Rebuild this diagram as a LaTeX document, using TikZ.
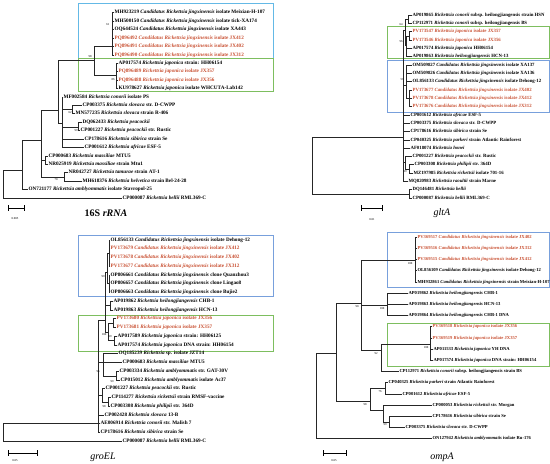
\documentclass[tikz,border=0pt]{standalone}
\usepackage{fontspec}
\setmainfont{Liberation Serif}
\usetikzlibrary{positioning}

\definecolor{boxcyan}{RGB}{100,185,230}
\definecolor{boxblue}{RGB}{120,160,220}
\definecolor{boxgreen}{RGB}{125,190,95}
\definecolor{redlab}{RGB}{200,80,50}

\begin{document}
\begin{tikzpicture}[x=1pt,y=-1pt,
    leaf/.style={anchor=west,inner sep=0.4pt,font=\fontsize{#1}{5}\selectfont\bfseries,text height=3.3pt,text depth=0.9pt},
    leaf/.default=4.8,
    br/.style={line width=0.6pt,black!85},
    bs/.style={font=\fontsize{3}{3}\selectfont,inner sep=0pt},
    clade/.style={line width=0.7pt},
    treetitle/.style={font=\fontsize{10}{11}\selectfont,inner sep=0pt}]
    \tikzstyle{scalebar}=[line width=0.6pt,{|-|}]
\useasboundingbox (0,0) rectangle (550,464);

%%%%%%%% 16S rRNA (top left)
    \draw[boxcyan,clade] (78,3) rectangle (273,58.5); % jingxinensis clade
    \draw[boxgreen,clade] (78,58.5) rectangle (273,91); % japonica clade
    \foreach \i/\x/\c/\acc/\sp/\rest in {
        1/114/black/MH923219/Candidatus Rickettsia jingxinensis/isolate Meixian-H-107,
        2/114/black/MH500150/Candidatus Rickettsia jingxinensis/isolate tick-XA174,
        3/114/black/OQ644524/Candidatus Rickettsia jingxinensis/isolate XA443,
        4/114/redlab/PQ896492/Candidatus Rickettsia jingxinensis/isolate JX412,
        5/114/redlab/PQ896491/Candidatus Rickettsia jingxinensis/isolate JX402,
        6/114/redlab/PQ896490/Candidatus Rickettsia jingxinensis/isolate JX312,
        7/118/black/AP017574/Rickettsia japonica/strain: HH06154,
        8/118/redlab/PQ896489/Rickettsia japonica/isolate JX357,
        9/118/redlab/PQ896488/Rickettsia japonica/isolate JX356,
        10/118/black/KU978627/Rickettsia japonica/isolate WHCUTA-Lab142,
        11/63/black/MF002584/Rickettsia conorii/isolate PS,
        12/82/black/CP003375/Rickettsia slovaca/str. D-CWPP,
        13/75/black/MN577235/Rickettsia slovaca/strain R-406,
        14/82/black/DQ062433/Rickettsia peacockii/{},
        15/80/black/CP001227/Rickettsia peacockii/str. Rustic,
        16/84/black/CP178616/Rickettsia sibirica/strain Se,
        17/84/black/CP001612/Rickettsia africae/ESF-5,
        18/48/black/CP000683/Rickettsia massiliae/MTU5,
        19/48/black/NR025919/Rickettsia massiliae/strain Mtu1,
        20/68/black/NR042727/Rickettsia tamurae/strain AT-1,
        21/82/black/MH618376/Rickettsia helvetica/strain Bel-24-28,
        22/28/black/ON721177/Rickettsia amblyommatis/isolate Stavropol-25,
        23/122/black/CP000087/Rickettsia bellii/RML369-C}
        \node[leaf=5.2,text=\c] (s\i) at (\x,{12.7+8.42*(\i-1)}) {\acc\ \textit{\sp} \rest};

    \coordinate (sR) at (3,184);
    \coordinate (sA) at (22,170);
    \coordinate (sB) at (41,140);
    \coordinate (sT) at (58,110);
    \coordinate (sCJ) at (94,60);
    \coordinate (sC) at (112,46);
    \coordinate (sJ) at (116,75);
    \coordinate (sSp) at (62,123);
    \coordinate (sSl) at (72,109);
    \coordinate (sPe) at (78,127);
    \coordinate (sMa) at (45,160);
    \coordinate (sTa) at (64,177);

    \draw[br] (sR) |- (sA) (sR) |- (s23);
    \draw[br] (sA) |- (sB) (sA) |- (s22);
    \draw[br] (sB) |- (sT) (sB) |- (sMa) (sB) |- (sTa);
    \draw[br] (sT) |- (sCJ) (sT) |- (sSp);
    \draw[br] (sCJ) |- (sC) (sCJ) |- (sJ);
    \foreach \k in {1,...,6} \draw[br] (sC) |- (s\k);
    \foreach \k in {7,...,10} \draw[br] (sJ) |- (s\k);
    \draw[br] (sSp) |- (s11) (sSp) |- (sSl) (sSp) |- (sPe) (sSp) |- (s16) (sSp) |- (s17);
    \draw[br] (sSl) |- (s12) (sSl) |- (s13);
    \draw[br] (sPe) |- (s14) (sPe) |- (s15);
    \draw[br] (sMa) |- (s18) (sMa) |- (s19);
    \draw[br] (sTa) |- (s20) (sTa) |- (s21);

    % bootstrap values
    \foreach \x/\y/\t [count=\n] in {108/25/61, 90/57/98, 113/80/86, 70/113/62, 76/131/99, 56/180/70}
        \node[bs] (sb\n) at (\x,\y) {\t};

    \coordinate (sbarA) at (8,208);
    \coordinate (sbarB) at (25,208);
    \draw[scalebar] (sbarA) -- (sbarB);
    \node[bs] (sscale) at (15,219) {0.005};
    \node[treetitle] (stitle) at (106,213) {\textbf{16S \textit{rRNA}}};

%%%%%%%% gltA (top right)
    \draw[boxgreen,clade] (387,26) rectangle (549,58.5); % japonica clade
    \draw[boxblue,clade] (387,60) rectangle (549,112); % jingxinensis clade
    \foreach \i/\x/\c/\acc/\sp/\rest in {
        1/412/black/AP019865/Rickettsia conorii/subsp. heilongjiangensis strain HSN,
        2/412/black/CP112971/Rickettsia conorii/subsp. heilongjiangensis BS,
        3/412/redlab/PV173547/Rickettsia japonica/isolate JX357,
        4/412/redlab/PV173546/Rickettsia japonica/isolate JX356,
        5/412/black/AP017574/Rickettsia japonica/HH06154,
        6/412/black/AP019863/Rickettsia heilongjiangensis/HCN-13,
        7/412/black/OM509827/Candidatus Rickettsia jingxinensis/isolate XA137,
        8/412/black/OM509826/Candidatus Rickettsia jingxinensis/isolate XA136,
        9/412/black/OL856133/Candidatus Rickettsia jingxinensis/isolate Dehong-12,
        10/412/redlab/PV173677/Candidatus Rickettsia jingxinensis/isolate JX402,
        11/412/redlab/PV173678/Candidatus Rickettsia jingxinensis/isolate JX412,
        12/412/redlab/PV173676/Candidatus Rickettsia jingxinensis/isolate JX312,
        13/410/black/CP001612/Rickettsia africae/ESF-5,
        14/410/black/CP003375/Rickettsia slovaca/str. D-CWPP,
        15/410/black/CP178616/Rickettsia sibirica/strain Se,
        16/410/black/CP040325/Rickettsia parkeri/strain Atlantic Rainforest,
        17/410/black/AF018074/Rickettsia honei/{},
        18/412/black/CP001227/Rickettsia peacockii/str. Rustic,
        19/414/black/CP003308/Rickettsia philipii/str. 364D,
        20/413/black/MZ197985/Rickettsia rickettsii/isolate 701-16,
        21/408/black/MQ820983/Rickettsia raoultii/strain Marne,
        22/412/black/DQ146481/Rickettsia bellii/{},
        23/412/black/CP000087/Rickettsia bellii/RML369-C}
        \node[leaf,text=\c] (g\i) at (\x,{15+8.32*(\i-1)}) {\acc\ \textit{\sp} \rest};

    \coordinate (gR) at (312,165);
    \coordinate (gM) at (403,137);
    \coordinate (gQ1) at (405,30);
    \coordinate (gCB) at (408,19);
    \coordinate (gGR) at (406,45);
    \coordinate (gRP) at (409,36);
    \coordinate (gQ2) at (406,85);
    \coordinate (gRB) at (409,98);
    \coordinate (gPQ) at (405,162);
    \coordinate (gPP) at (409,169);
    \coordinate (gBe) at (409,194);

    \draw[br] (gR) |- (gM) (gR) |- (gBe);
    \draw[br] (gM) |- (gQ1) (gM) |- (gQ2) (gM) |- (gPQ) (gM) |- (g21);
    \foreach \k in {13,...,17} \draw[br] (gM) |- (g\k);
    \draw[br] (gQ1) |- (gCB) (gQ1) |- (gGR);
    \draw[br] (gCB) |- (g1) (gCB) |- (g2);
    \draw[br] (gGR) |- (gRP) (gGR) |- (g5) (gGR) |- (g6);
    \draw[br] (gRP) |- (g3) (gRP) |- (g4);
    \draw[br] (gQ2) |- (g7) (gQ2) |- (g8) (gQ2) |- (g9) (gQ2) |- (gRB);
    \foreach \k in {10,11,12} \draw[br] (gRB) |- (g\k);
    \draw[br] (gPQ) |- (g18) (gPQ) |- (gPP);
    \draw[br] (gPP) |- (g19) (gPP) |- (g20);
    \draw[br] (gBe) |- (g22) (gBe) |- (g23);

    \foreach \x/\y/\t [count=\n] in {401/25/64, 401/42/96, 402/80/59, 405/172/99}
        \node[bs] (gb\n) at (\x,\y) {\t};

    \coordinate (gbarA) at (361,208);
    \coordinate (gbarB) at (383,208);
    \draw[scalebar] (gbarA) -- (gbarB);
    \node[bs] (gscale) at (372,220) {0.01};
    \node[treetitle] (gtitle) at (442,213) {\textit{gltA}};

%%%%%%%% groEL (bottom left)
    \draw[boxblue,clade] (78,235) rectangle (273,296); % jingxinensis clade
    \draw[boxgreen,clade] (78,315) rectangle (273,351); % japonica clade
    \foreach \i/\x/\c/\acc/\sp/\rest in {
        1/110/black/OL856133/Candidatus Rickettsia jingxinensis/isolate Dehong-12,
        2/110/redlab/PV173679/Candidatus Rickettsia jingxinensis/isolate JX412,
        3/110/redlab/PV173678/Candidatus Rickettsia jingxinensis/isolate JX402,
        4/110/redlab/PV173677/Candidatus Rickettsia jingxinensis/isolate JX312,
        5/110/black/OP806661/Candidatus Rickettsia jingxinensis/clone Quanzhou3,
        6/110/black/OP806657/Candidatus Rickettsia jingxinensis/clone Lingao8,
        7/110/black/OP806663/Candidatus Rickettsia jingxinensis/clone Bujie2,
        8/113/black/AP019862/Rickettsia heilongjiangensis/CHB-1,
        9/113/black/AP019863/Rickettsia heilongjiangensis/HCN-13,
        10/116/redlab/PV173680/Rickettsia japonica/isolate JX356,
        11/116/redlab/PV173681/Rickettsia japonica/isolate JX357,
        12/117/black/AP017589/Rickettsia japonica/strain: HH06125,
        13/117/black/AP017574/Rickettsia japonica/DNA strain: HH06154,
        14/118/black/OQ185239/Rickettsia/sp. isolate JZT14,
        15/122/black/CP000683/Rickettsia massiliae/MTU5,
        16/119/black/CP003334/Rickettsia amblyommatis/str. GAT-30V,
        17/120/black/CP015012/Rickettsia amblyommatis/isolate Ac37,
        18/105/black/CP001227/Rickettsia peacockii/str. Rustic,
        19/111/black/CP114277/Rickettsia rickettsii/strain RMSF-vaccine,
        20/110/black/CP003308/Rickettsia philipii/str. 364D,
        21/104/black/CP002428/Rickettsia slovaca/13-B,
        22/100/black/AE006914/Rickettsia conorii/str. Malish 7,
        23/100/black/CP178616/Rickettsia sibirica/strain Se,
        24/122/black/CP000087/Rickettsia bellii/RML369-C}
        \node[leaf=5.2,text=\c] (e\i) at (\x,{240+8.75*(\i-1)}) {\acc\ \textit{\sp} \rest};

    \coordinate (eR) at (3,423);
    \coordinate (eM) at (98,423);
    \coordinate (eU) at (105,320);
    \coordinate (eT) at (107,272);
    \coordinate (eB1) at (109,253);
    \coordinate (eOP) at (109,283);
    \coordinate (eHJ) at (110,305);
    \coordinate (eJP) at (108,332);
    \coordinate (eRP) at (113,323);
    \coordinate (eAJ) at (114,340);
    \coordinate (eV) at (103,362);
    \coordinate (eAM) at (116,376);
    \coordinate (ePK) at (102,395);
    \coordinate (ePP) at (108,402);

    \draw[br] (eR) |- (eM) (eR) |- (e24);
    \draw[br] (eM) |- (eU) (eM) |- (eV) (eM) |- (ePK) (eM) |- (e21) (eM) |- (e22) (eM) |- (e23);
    \draw[br] (eU) |- (eT) (eU) |- (eHJ) (eU) |- (eJP);
    \draw[br] (eT) |- (eB1) (eT) |- (eOP);
    \foreach \k in {1,...,4} \draw[br] (eB1) |- (e\k);
    \foreach \k in {5,6,7} \draw[br] (eOP) |- (e\k);
    \draw[br] (eHJ) |- (e8) (eHJ) |- (e9);
    \draw[br] (eJP) |- (eRP) (eJP) |- (eAJ);
    \draw[br] (eRP) |- (e10) (eRP) |- (e11);
    \draw[br] (eAJ) |- (e12) (eAJ) |- (e13);
    \draw[br] (eV) |- (e14) (eV) |- (e15) (eV) |- (eAM);
    \draw[br] (eAM) |- (e16) (eAM) |- (e17);
    \draw[br] (ePK) |- (e18) (ePK) |- (ePP);
    \draw[br] (ePP) |- (e19) (ePP) |- (e20);

    \foreach \x/\y/\t [count=\n] in {103/277/99, 104/335/100, 110/337/99, 98/372/96, 112/382/99, 104/407/98}
        \node[bs] (eb\n) at (\x,\y) {\t};

    \coordinate (ebarA) at (8,453);
    \coordinate (ebarB) at (38,453);
    \draw[scalebar] (ebarA) -- (ebarB);
    \node[bs] (escale) at (15,461) {0.05};
    \node[treetitle] (etitle) at (103,457) {\textit{groEL}};

%%%%%%%% ompA (bottom right)
    \draw[boxblue,clade] (387,232) rectangle (549,287); % jingxinensis clade
    \draw[boxgreen,clade] (387,323) rectangle (549,366); % japonica clade
    \foreach \i/\x/\c/\acc/\sp/\rest in {
        1/417/redlab/PV369517/Candidatus Rickettsia jingxinensis/isolate JX402,
        2/417/redlab/PV369516/Candidatus Rickettsia jingxinensis/isolate JX312,
        3/417/redlab/PV369515/Candidatus Rickettsia jingxinensis/isolate JX412,
        4/417/black/OL856109/Candidatus Rickettsia jingxinensis/isolate Dehong-12,
        5/417/black/MH932861/Candidatus Rickettsia jingxinensis/strain Meixian-H-107,
        6/408/black/AP019862/Rickettsia heilongjiangensis/CHB-1,
        7/408/black/AP019863/Rickettsia heilongjiangensis/HCN-13,
        8/408/black/AP019864/Rickettsia heilongjiangensis/CHB-1 DNA,
        9/432/redlab/PV369518/Rickettsia japonica/isolate JX356,
        10/432/redlab/PV369519/Rickettsia japonica/isolate JX357,
        11/433/black/AP011533/Rickettsia japonica/YH DNA,
        12/433/black/AP017574/Rickettsia japonica/DNA strain: HH06154,
        13/399/black/CP112971/Rickettsia conorii/subsp. heilongjiangensis strain BS,
        14/388/black/CP040325/Rickettsia parkeri/strain Atlantic Rainforest,
        15/402/black/CP001612/Rickettsia africae/ESF-5,
        16/432/black/CP000053/Rickettsia rickettsii/str. Morgan,
        17/432/black/CP178616/Rickettsia sibirica/strain Se,
        18/405/black/CP003375/Rickettsia slovaca/str. D-CWPP,
        19/432/black/ON127942/Rickettsia amblyommatis/isolate Ru-176}
        \node[leaf=4.6,text=\c] (o\i) at (\x,{237+11.2*(\i-1)}) {\acc\ \textit{\sp} \rest};

    \coordinate (oR) at (316,400);
    \coordinate (oA) at (336,353);
    \coordinate (oB) at (361,303);
    \coordinate (oBL) at (415,260);
    \coordinate (oH) at (387,305);
    \coordinate (oD) at (381,350);
    \coordinate (oJ) at (430,344);
    \coordinate (oC) at (370,401);
    \coordinate (oP) at (385,388);
    \coordinate (oQ) at (383,410);
    \coordinate (oF) at (389,422);

    \draw[br] (oR) |- (oA) (oR) |- (o19);
    \draw[br] (oA) |- (oB) (oA) |- (oC);
    \draw[br] (oB) |- (oBL) (oB) |- (oH) (oB) |- (oD);
    \foreach \k in {1,...,5} \draw[br] (oBL) |- (o\k);
    \foreach \k in {6,7,8} \draw[br] (oH) |- (o\k);
    \draw[br] (oD) |- (oJ) (oD) |- (o13);
    \foreach \k in {9,...,12} \draw[br] (oJ) |- (o\k);
    \draw[br] (oC) |- (oP) (oC) |- (oQ);
    \draw[br] (oP) |- (o14) (oP) |- (o15);
    \draw[br] (oQ) |- (o16) (oQ) |- (oF);
    \draw[br] (oF) |- (o17) (oF) |- (o18);

    \foreach \x/\y/\t [count=\n] in {410/264/100, 357/307/90, 382/309/100, 426/348/100, 376/354/92, 380/392/76, 365/405/98, 385/425/99}
        \node[bs] (ob\n) at (\x,\y) {\t};

    \coordinate (obarA) at (323,453);
    \coordinate (obarB) at (347,453);
    \draw[scalebar] (obarA) -- (obarB);
    \node[bs] (oscale) at (334,461) {0.05};
    \node[treetitle] (otitle) at (442,457) {\textit{ompA}};
\end{tikzpicture}
\end{document}
